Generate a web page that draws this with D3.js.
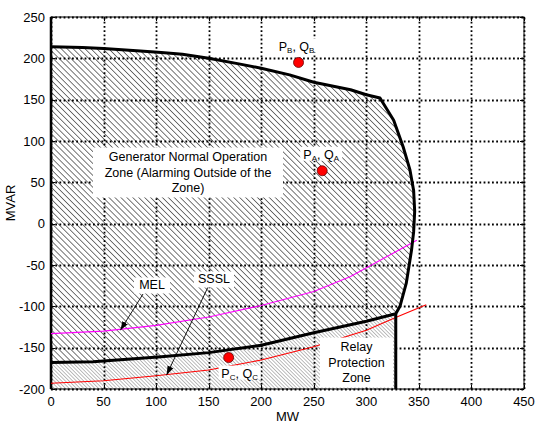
<!DOCTYPE html>
<html>
<head>
<meta charset="utf-8">
<script src="https://cdn.jsdelivr.net/npm/d3@7"></script>
<style>
  body { margin: 0; background: #fff; }
  text { font-family: "Liberation Sans", Arial, sans-serif; }
</style>
</head>
<body>
<div id="chart"></div>
<script>
// axis ticks
const xTicks = [0, 50, 100, 150, 200, 250, 300, 350, 400, 450];
const yTicks = [-200, -150, -100, -50, 0, 50, 100, 150, 200, 250];

// generator capability boundary (MW, MVAR)
const topMW   = [0, 30, 50, 85, 105, 125, 150, 180, 200, 227, 250, 285, 300, 313];
const topMVAR = [214, 213, 212, 209, 207, 205, 200, 193, 188, 180, 171, 162, 156, 152];
const arcMW   = [313, 326, 335, 341.5, 345, 346, 345, 343, 338, 332, 328];
const arcMVAR = [152, 125, 93, 65, 40, 15, -10, -32, -72, -100, -109];
const lowMW   = [328, 300, 250, 200, 150, 105, 40, 0];
const lowMVAR = [-109, -118, -132, -147, -156, -161, -167, -168];

// limit curves
const melMW    = [0, 50, 100, 150, 200, 250, 285, 325, 348];
const melMVAR  = [-133, -130, -123, -113, -99, -82, -64, -36, -20];
const ssslMW   = [0, 50, 100, 150, 200, 250, 300, 329, 357];
const ssslMVAR = [-193, -190, -184, -177, -165, -149, -129, -113, -98];

// operating points
const pointNames = ["A", "B", "C"];
const pointMW    = [258, 235.5, 169];
const pointMVAR  = [64, 195, -162];

const width = 543, height = 423;
const margin = { top: 17, right: 19, bottom: 34, left: 51 };

const svg = d3.select("#chart").append("svg")
  .attr("width", width).attr("height", height);

const x = d3.scaleLinear().domain([0, 450]).range([margin.left, width - margin.right]);
const y = d3.scaleLinear().domain([-200, 250]).range([height - margin.bottom, margin.top]);
const rx = v => Math.round(x(v)) + 0.5;
const ry = v => Math.round(y(v)) + 0.5;

const defs = svg.append("defs");
function hatch(id, gap, color, w) {
  const p = defs.append("pattern").attr("id", id)
    .attr("patternUnits", "userSpaceOnUse")
    .attr("width", gap).attr("height", gap)
    .attr("patternTransform", "rotate(-45)");
  p.append("line").attr("x1", 0).attr("y1", 0).attr("x2", 0).attr("y2", gap)
    .attr("stroke", color).attr("stroke-width", w);
}
hatch("hatchMain", 4.2, "#1e1e1e", 1.2);
hatch("hatchLow", 2.6, "#6a6a6a", 0.9);

const zip = (a, b) => a.map((v, i) => [v, b[i]]);
const line = d3.line().x(d => x(d[0])).y(d => y(d[1]));

const topPts = zip(topMW, topMVAR);
const arcPts = zip(arcMW, arcMVAR);
const lowPts = zip(lowMW, lowMVAR);
const cornerMW = lowMW[0];

// upper hatched zone
const mainZone = topPts.concat(arcPts.slice(1), lowPts.slice(1));
svg.append("path").attr("d", line(mainZone) + "Z")
  .attr("fill", "url(#hatchMain)");

// lower hatched zone
const lowZone = lowPts.concat([[0, -200], [cornerMW, -200]]);
svg.append("path").attr("d", line(lowZone) + "Z")
  .attr("fill", "url(#hatchLow)");

// grid (dotted)
const grid = svg.append("g").attr("stroke", "#000").attr("stroke-width", 1.8)
  .attr("stroke-dasharray", "1.8,2.4");
grid.selectAll(".gx").data(xTicks).join("line")
  .attr("x1", d => rx(d)).attr("x2", d => rx(d))
  .attr("y1", y(-200)).attr("y2", y(250));
grid.selectAll(".gy").data(yTicks).join("line")
  .attr("x1", x(0)).attr("x2", x(450))
  .attr("y1", d => ry(d)).attr("y2", d => ry(d));

// frame with inner ticks
svg.append("rect").attr("x", x(0)).attr("y", y(250))
  .attr("width", x(450) - x(0)).attr("height", y(-200) - y(250))
  .attr("fill", "none").attr("stroke", "#000").attr("stroke-width", 1);
const tk = svg.append("g").attr("stroke", "#000").attr("stroke-width", 1);
xTicks.forEach(t => {
  tk.append("line").attr("x1", rx(t)).attr("x2", rx(t)).attr("y1", y(-200)).attr("y2", y(-200) - 4);
  tk.append("line").attr("x1", rx(t)).attr("x2", rx(t)).attr("y1", y(250)).attr("y2", y(250) + 4);
});
yTicks.forEach(t => {
  tk.append("line").attr("x1", x(0)).attr("x2", x(0) + 4).attr("y1", ry(t)).attr("y2", ry(t));
  tk.append("line").attr("x1", x(450)).attr("x2", x(450) - 4).attr("y1", ry(t)).attr("y2", ry(t));
});
svg.append("line").attr("x1", x(0)).attr("x2", x(0)).attr("y1", y(-200)).attr("y2", y(250))
  .attr("stroke", "#000").attr("stroke-width", 2.5);

// tick labels
svg.append("g").selectAll("text").data(xTicks).join("text")
  .attr("x", d => x(d)).attr("y", y(-200) + 17)
  .attr("text-anchor", "middle").attr("font-size", 13).text(d => d);
svg.append("g").selectAll("text").data(yTicks).join("text")
  .attr("x", x(0) - 6).attr("y", d => y(d) + 4.5)
  .attr("text-anchor", "end").attr("font-size", 13).text(d => d);

svg.append("text").attr("x", (x(0) + x(450)) / 2).attr("y", 421)
  .attr("text-anchor", "middle").attr("font-size", 13).text("MW");
svg.append("text").attr("transform", `translate(15,${y(25)}) rotate(-90)`)
  .attr("text-anchor", "middle").attr("font-size", 13).text("MVAR");

// limit curves
svg.append("path").attr("d", line(zip(melMW, melMVAR)))
  .attr("fill", "none").attr("stroke", "#ff00ff").attr("stroke-width", 1.1);
svg.append("path").attr("d", line(zip(ssslMW, ssslMVAR)))
  .attr("fill", "none").attr("stroke", "#ff0000").attr("stroke-width", 1.1);

// boundary
svg.append("path").attr("d", line(topPts.concat(arcPts.slice(1), lowPts.slice(1))))
  .attr("fill", "none").attr("stroke", "#000").attr("stroke-width", 3)
  .attr("stroke-linejoin", "round");
svg.append("line").attr("x1", x(cornerMW)).attr("x2", x(cornerMW))
  .attr("y1", y(lowMVAR[0])).attr("y2", y(-200))
  .attr("stroke", "#000").attr("stroke-width", 3);

// labelled boxes
function textBox(lines, cx, cy, lh, padY, boxW) {
  const g = svg.append("g");
  const h = lines.length * lh;
  g.append("rect").attr("x", cx - boxW / 2).attr("y", cy - h / 2 - padY)
    .attr("width", boxW).attr("height", h + 2 * padY).attr("fill", "#fff");
  lines.forEach((l, i) => {
    g.append("text").attr("x", cx).attr("y", cy - h / 2 + lh * i + lh * 0.78)
      .attr("text-anchor", "middle").attr("font-size", 12.5).text(l);
  });
}
textBox(["Generator Normal Operation", "Zone (Alarming Outside of the", "Zone)"], 188, 172.5, 15.3, 2, 190);
textBox(["Relay", "Protection", "Zone"], 356.5, 362.5, 15.3, 2, 73);

// arrows
defs.append("marker").attr("id", "arrow").attr("viewBox", "0 0 10 10")
  .attr("refX", 10).attr("refY", 5).attr("markerWidth", 9).attr("markerHeight", 9)
  .attr("markerUnits", "userSpaceOnUse").attr("orient", "auto")
  .append("path").attr("d", "M0,1.5L10,5L0,8.5Z").attr("fill", "#000");
svg.append("line").attr("x1", 143).attr("y1", 294).attr("x2", x(66)).attr("y2", y(-129))
  .attr("stroke", "#000").attr("stroke-width", 0.9).attr("marker-end", "url(#arrow)");
svg.append("line").attr("x1", 208).attr("y1", 287).attr("x2", x(110)).attr("y2", y(-183))
  .attr("stroke", "#000").attr("stroke-width", 0.9).attr("marker-end", "url(#arrow)");
textBox(["MEL"], 152, 285.5, 14, 1, 36);
textBox(["SSSL"], 214, 279.5, 14, 1, 40);

// operating points and their labels
const labelOffsets = { A: [-1, -16], B: [-2, -16], C: [11, 16] };
pointNames.forEach((n, i) => {
  const px = x(pointMW[i]), py = y(pointMVAR[i]);
  const [dx, dy] = labelOffsets[n];
  const g = svg.append("g").attr("transform", `translate(${px + dx},${py + dy})`);
  g.append("rect").attr("x", -21).attr("y", -8).attr("width", 42).attr("height", 14).attr("fill", "#fff");
  const t = g.append("text").attr("text-anchor", "middle").attr("y", 4.5).attr("font-size", 12.5);
  t.append("tspan").text("P");
  t.append("tspan").attr("font-size", 8).attr("dy", 2).text(n);
  t.append("tspan").attr("dy", -2).text(", Q");
  t.append("tspan").attr("font-size", 8).attr("dy", 2).text(n);
  svg.append("circle").attr("cx", px).attr("cy", py).attr("r", 5)
    .attr("fill", "#ff0000").attr("stroke", "#600").attr("stroke-width", 0.8);
});
</script>
</body>
</html>
